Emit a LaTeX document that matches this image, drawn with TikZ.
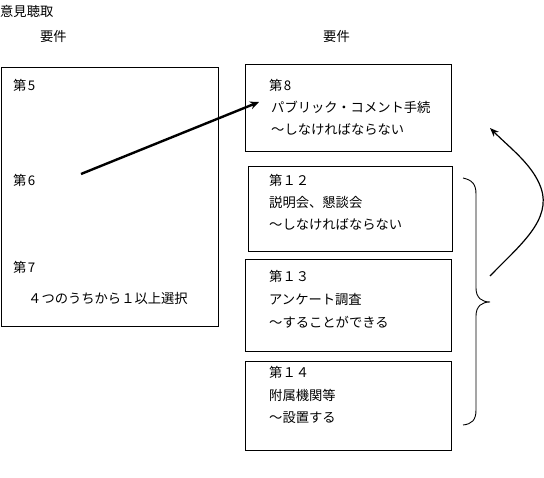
\documentclass[tikz,border=0pt]{standalone}
\usepackage{fontspec}
\setmainfont{Noto Sans CJK JP}
\usetikzlibrary{arrows.meta}
\begin{document}
\begin{tikzpicture}[x=1pt,y=-1pt,
  box/.style={draw,line width=1pt,anchor=north west,inner sep=0pt},
  txt/.style={anchor=west,inner sep=0pt,font=\fontsize{13.3}{15}\selectfont},
]
\useasboundingbox (0,0) rectangle (544,478);
% headings
\node[txt] (t0) at (0,11) {意見聴取};
\node[txt] (h1) at (40,36) {要件};
\node[txt] (h2) at (323,36) {要件};
% left box
\node[box,minimum width=217pt,minimum height=259pt] (L) at (0.5,67) {};
\node[txt] (l5) at (13,85) {第\kern1.5pt5};
\node[txt] (l6) at (13,180) {第\kern1.5pt6};
\node[txt] (l7) at (13,267) {第\kern1.5pt7};
\node[txt] (l7b) at (28,298) {４つのうちから１以上選択};
% right boxes
\node[box,minimum width=206pt,minimum height=87pt] (B8) at (245,64.5) {};
\node[txt] (b8a) at (269,85) {第\kern1.5pt8};
\node[txt] (b8b) at (271,107) {パブリック・コメント手続};
\node[txt] (b8c) at (271,129) {～しなければならない};
\node[box,minimum width=204pt,minimum height=85pt] (B12) at (247.5,166) {};
\node[txt] (b12a) at (269,180) {第１２};
\node[txt] (b12b) at (269,202) {説明会、懇談会};
\node[txt] (b12c) at (269,224) {～しなければならない};
\node[box,minimum width=206pt,minimum height=92pt] (B13) at (245,259.5) {};
\node[txt] (b13a) at (269,276) {第１３};
\node[txt] (b13b) at (269,299) {アンケート調査};
\node[txt] (b13c) at (269,322) {～することができる};
\node[box,minimum width=206pt,minimum height=89pt] (B14) at (245,361) {};
\node[txt] (b14a) at (269,372) {第１４};
\node[txt] (b14b) at (269,395) {附属機関等};
\node[txt] (b14c) at (269,418) {～設置する};
% straight arrow
\coordinate (s6) at (81,174);
\coordinate (e8) at (259,102);
\draw[line width=2.4pt,-{Stealth[length=9pt,width=8pt]}] (s6) -- (e8);
% brace
\coordinate (br1) at (463,178);
\coordinate (brm) at (490,302);
\coordinate (br2) at (463,425);
\draw[line width=0.9pt] (br1) .. controls (472,180) and (476,184) .. (476,194)
  -- (476,288) .. controls (476,298) and (482,302) .. (brm)
  .. controls (482,302) and (476,306) .. (476,316)
  -- (476,410) .. controls (476,420) and (472,424) .. (br2);
% curved arrow
\coordinate (cs) at (490,276);
\coordinate (ce) at (490,128);
\draw[line width=1.2pt,-{Stealth[length=9pt,width=7pt]}] (cs) .. controls (520,245) and (552,220) .. (541,188) .. controls (533,165) and (510,148) .. (ce);
\end{tikzpicture}
\end{document}
